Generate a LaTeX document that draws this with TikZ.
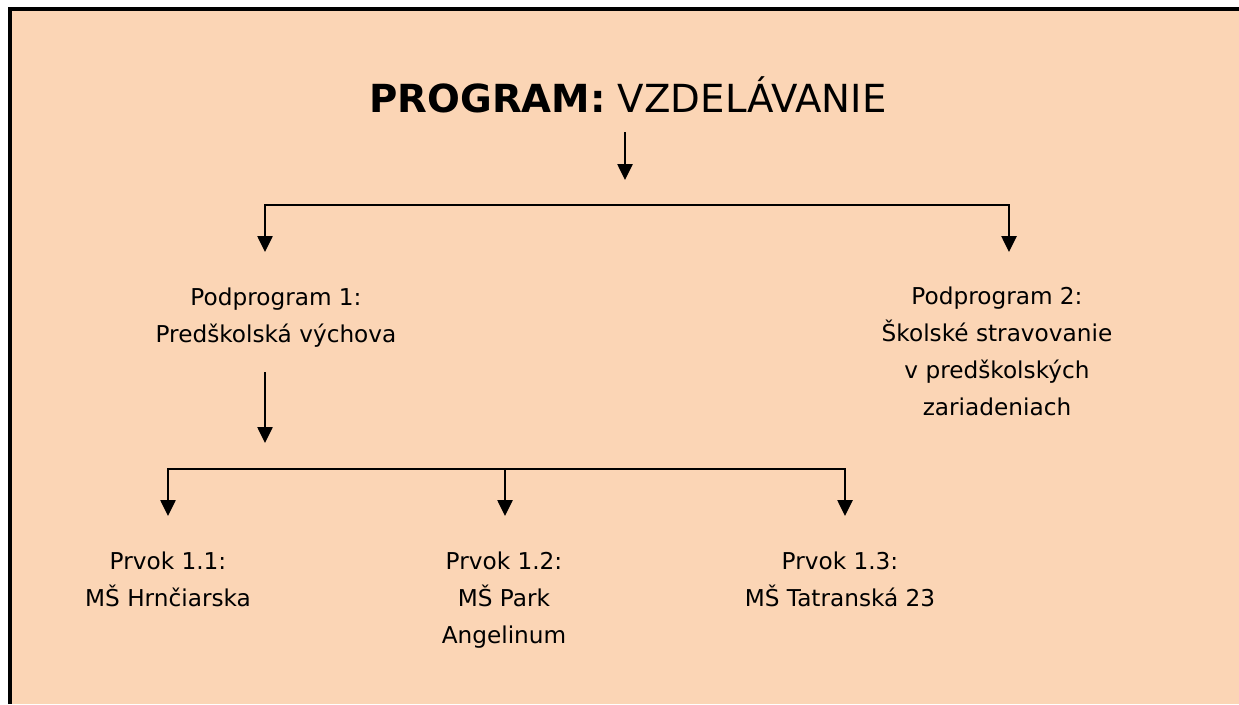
\documentclass[tikz,border=0pt]{standalone}
\usepackage{fontspec}
\setmainfont{DejaVu Sans}
\usetikzlibrary{arrows.meta}
\definecolor{peach}{RGB}{251,213,181}

\begin{document}
\begin{tikzpicture}[
    x=0.75pt, y=-0.75pt,
    item/.style={
        align=center,
        inner sep=0pt,
        anchor=base, % baseline of the last line
        font=\fontsize{17.4}{27.75}\selectfont
    },
    heading/.style={
        inner sep=0pt,
        anchor=base,
        font=\fontsize{29}{34}\selectfont
    },
    arrow/.style={
        line width=1.1pt,
        -{Triangle[length=12pt, width=11.5pt]}
    },
    fork/.style={
        line width=1.1pt,
        {Triangle[length=12pt, width=11.5pt]}-{Triangle[length=12pt, width=11.5pt]}
    }
]
\useasboundingbox (0,0) rectangle (1239,704);

% Background panel
\fill[peach] (10,9) rectangle (1239,704);
\draw[line width=3pt] (10,704) -- (10,9) -- (1239,9);

% Program and subprograms
\node[heading] (title) at (628,112) {\textbf{PROGRAM:} VZDELÁVANIE};
\node[item] (sub1) at (276,342) {Podprogram 1:\\Predškolská výchova};
\node[item] (sub2) at (997,415) {Podprogram 2:\\Školské stravovanie\\v predškolských\\zariadeniach};

% Elements
\node[item] (el1) at (168,606) {Prvok 1.1:\\MŠ Hrnčiarska};
\node[item] (el2) at (504,643) {Prvok 1.2:\\MŠ Park\\Angelinum};
\node[item] (el3) at (840,606) {Prvok 1.3:\\MŠ Tatranská 23};

% Arrow points
\coordinate (t0) at (625,132);
\coordinate (t1) at (625,180);
\coordinate (bus1) at (637,205);
\coordinate (s1) at (265,252);
\coordinate (s2) at (1009,252);
\coordinate (p0) at (265,372);
\coordinate (p1) at (265,443);
\coordinate (bus2) at (505,469);
\coordinate (e1) at (168,516);
\coordinate (e2) at (505,516);
\coordinate (e3) at (845,516);

% Level 1
\draw[arrow] (t0) -- (t1);
\draw[fork] (s1) |- (bus1) -| (s2);

% Level 2
\draw[arrow] (p0) -- (p1);
\draw[fork] (e1) |- (bus2) -| (e3);
\draw[arrow] (bus2) -- (e2);

\end{tikzpicture}
\end{document}
